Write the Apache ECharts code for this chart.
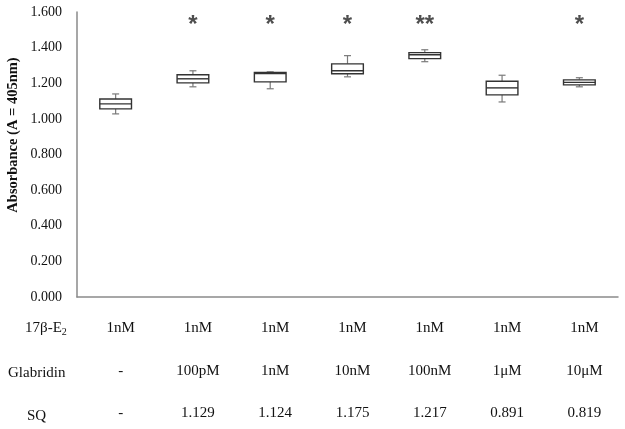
<!DOCTYPE html>
<html>
<head>
<meta charset="utf-8">
<script src="https://cdn.jsdelivr.net/npm/echarts@6/dist/echarts.min.js"></script>
<style>
html,body{margin:0;padding:0;background:#fff;}
#chart{width:625px;height:429px;}
</style>
</head>
<body>
<div id="chart"></div>
<script>
// ---- data ----
const categories = ['g1','g2','g3','g4','g5','g6','g7'];
const e2Row = ['1nM','1nM','1nM','1nM','1nM','1nM','1nM'];
const glabridinRow = ['-','100pM','1nM','10nM','100nM','1\u03BCM','10\u03BCM'];
const sqRow = ['-','1.129','1.124','1.175','1.217','0.891','0.819'];
// [min, Q1, median, Q3, max]
const boxStats = [
  [1.028, 1.056, 1.084, 1.112, 1.140],
  [1.180, 1.202, 1.225, 1.248, 1.270],
  [1.169, 1.208, 1.255, 1.260, 1.264],
  [1.236, 1.253, 1.270, 1.309, 1.355],
  [1.321, 1.338, 1.360, 1.372, 1.388],
  [1.095, 1.135, 1.174, 1.211, 1.245],
  [1.180, 1.191, 1.205, 1.219, 1.231]
];
const significance = ['', '*', '*', '*', '**', '', '*'];
const yTicks = [0, 0.2, 0.4, 0.6, 0.8, 1.0, 1.2, 1.4, 1.6];

const FONT = '"Liberation Serif", "Times New Roman", serif';
const chart = echarts.init(document.getElementById('chart'), null, {renderer: 'canvas'});

function renderBox(params, api) {
  const i = api.value(0);
  const pLo = api.coord([i, api.value(1)]);
  const pQ1 = api.coord([i, api.value(2)]);
  const pMed = api.coord([i, api.value(3)]);
  const pQ3 = api.coord([i, api.value(4)]);
  const pHi = api.coord([i, api.value(5)]);
  const band = api.size([1, 0])[0];
  const half = band * 0.205;
  const cap = 3.5;
  const cx = pLo[0];
  const whisk = {stroke: '#7a7a7a', lineWidth: 1.2};
  const edge = {stroke: '#333', lineWidth: 1.4};
  return {
    type: 'group',
    children: [
      {type: 'line', shape: {x1: cx, y1: pHi[1], x2: cx, y2: pQ3[1]}, style: whisk},
      {type: 'line', shape: {x1: cx, y1: pLo[1], x2: cx, y2: pQ1[1]}, style: whisk},
      {type: 'line', shape: {x1: cx - cap, y1: pHi[1], x2: cx + cap, y2: pHi[1]}, style: whisk},
      {type: 'line', shape: {x1: cx - cap, y1: pLo[1], x2: cx + cap, y2: pLo[1]}, style: whisk},
      {type: 'rect', shape: {x: cx - half, y: pQ3[1], width: half * 2, height: pQ1[1] - pQ3[1]},
        style: Object.assign({fill: '#fff'}, edge)},
      {type: 'line', shape: {x1: cx - half, y1: pMed[1], x2: cx + half, y2: pMed[1]}, style: edge}
    ]
  };
}

const SIG_LEVEL = 1.55;

chart.setOption({
  animation: false,
  backgroundColor: '#fff',
  grid: {left: 77, right: 7, top: 12, bottom: 132, containLabel: false, outerBoundsMode: 'none'},
  xAxis: {
    type: 'category',
    data: categories,
    axisLine: {lineStyle: {color: '#8a8a8a', width: 1.5}},
    axisTick: {show: false},
    splitLine: {show: false},
    axisLabel: {
      interval: 0,
      margin: 10,
      color: '#111',
      fontFamily: FONT,
      fontSize: 15,
      lineHeight: 42.5,
      padding: [0, 0, 0, 10],
      formatter: function (v, idx) {
        return e2Row[idx] + '\n' + glabridinRow[idx] + '\n' + sqRow[idx];
      }
    }
  },
  yAxis: {
    type: 'value',
    min: 0,
    max: 1.6,
    interval: 0.2,
    axisLine: {show: true, lineStyle: {color: '#8a8a8a', width: 1.5}},
    axisTick: {show: false},
    splitLine: {show: false},
    axisLabel: {
      margin: 15,
      color: '#111',
      fontFamily: FONT,
      fontSize: 14,
      formatter: function (v) { return v.toFixed(3); }
    }
  },
  graphic: [
    {type: 'text', x: 13, y: 135, rotation: Math.PI / 2,
      style: {text: 'Absorbance (A = 405nm)', font: 'bold 14.5px ' + FONT, fill: '#111',
        align: 'center', verticalAlign: 'middle'}},
    {type: 'text', left: 25, top: 321,
      style: {text: '{n|17\u03B2-E}{s|2}', fill: '#111',
        rich: {n: {fontFamily: FONT, fontSize: 15, fill: '#111'},
               s: {fontFamily: FONT, fontSize: 10, fill: '#111', padding: [8, 0, 0, 0]}}}},
    {type: 'text', left: 8, top: 366,
      style: {text: 'Glabridin', font: '15px ' + FONT, fill: '#111'}},
    {type: 'text', left: 27, top: 409,
      style: {text: 'SQ', font: '15px ' + FONT, fill: '#111'}}
  ],
  series: [
    {
      type: 'custom',
      renderItem: renderBox,
      encode: {x: 0, y: [1, 2, 3, 4, 5]},
      data: boxStats.map(function (d, i) { return [i].concat(d); }),
      z: 2
    },
    {
      type: 'scatter',
      symbolSize: 0,
      silent: true,
      data: significance.map(function (s, i) { return [i, SIG_LEVEL, s]; }),
      label: {
        show: true,
        position: 'inside',
        offset: [0, 4],
        fontFamily: '"Liberation Sans", Arial, sans-serif',
        fontSize: 24,
        fontWeight: 'bold',
        color: '#222',
        formatter: function (p) { return p.value[2]; }
      }
    }
  ]
});
</script>
</body>
</html>
